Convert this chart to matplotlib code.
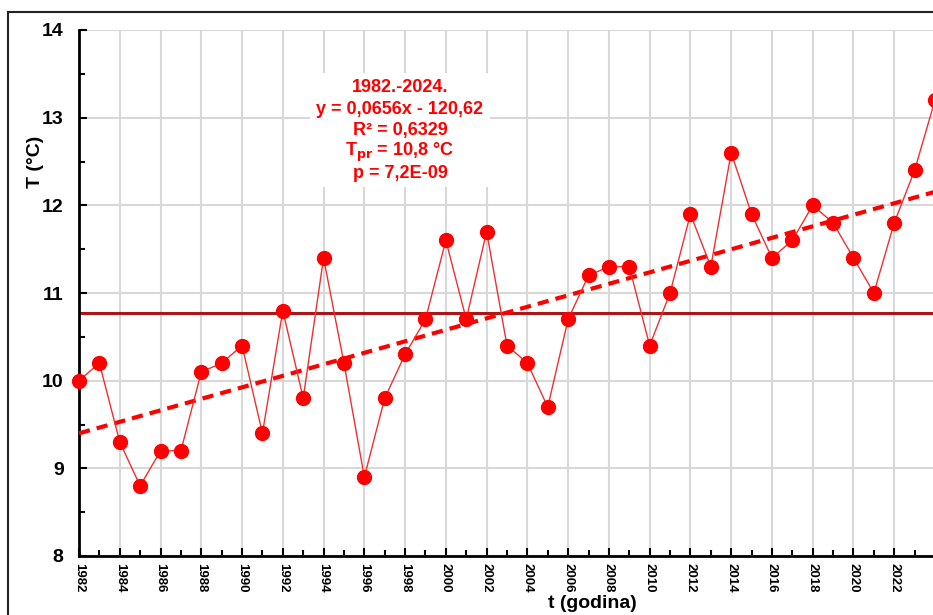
import matplotlib.pyplot as plt
from matplotlib.lines import Line2D
from matplotlib.patches import Rectangle
from matplotlib.ticker import MultipleLocator
import numpy as np

plt.rcParams['font.family'] = ['Liberation Sans', 'DejaVu Sans']

# mean annual temperature
years = list(range(1982, 2025))
temps = [10.0, 10.2, 9.3, 8.8, 9.2, 9.2, 10.1, 10.2, 10.4, 9.4,
         10.8, 9.8, 11.4, 10.2, 8.9, 9.8, 10.3, 10.7, 11.6, 10.7,
         11.7, 10.4, 10.2, 9.7, 10.7, 11.2, 11.3, 11.3, 10.4, 11.0,
         11.9, 11.3, 12.6, 11.9, 11.4, 11.6, 12.0, 11.8, 11.4, 11.0,
         11.8, 12.4, 13.2]
slope = 0.0656
intercept = -120.62
t_mean = 10.77

info_lines = ["1982.-2024.",
              "y = 0,0656x - 120,62",
              "R² = 0,6329",
              "T$_{\\mathbf{pr}}$ = 10,8 °C",
              "p = 7,2E-09"]

W, H = 933, 615
fig = plt.figure(figsize=(W / 100, H / 100), dpi=100)
ax = fig.add_axes([79 / W, 1 - 556 / H, (935 - 79) / W, (556 - 30) / H])

x = np.array(years)
ax.axhline(t_mean, color='#A81818', lw=2.2, zorder=2)
ax.plot(x, slope * x + intercept, color='#FF0000', lw=3, ls=(0, (2.7, 1.7)), zorder=3)
ax.plot(x, temps, color='#EE3030', lw=1, marker='o', ms=10,
        mfc='#FF0000', mec='#FF0000', zorder=4, clip_on=False)

ax.set_xlim(1982, 2024)
ax.set_ylim(8, 14)
ax.xaxis.set_major_locator(MultipleLocator(2))
ax.xaxis.set_minor_locator(MultipleLocator(1))
ax.yaxis.set_major_locator(MultipleLocator(1))
ax.yaxis.set_minor_locator(MultipleLocator(0.5))
ax.grid(True, which='major', color='#D8D8D8', lw=1.5, zorder=0)
ax.set_axisbelow(True)

for s in ['top', 'right']:
    ax.spines[s].set_visible(False)
for s in ['left', 'bottom']:
    ax.spines[s].set_linewidth(2)
    ax.spines[s].set_color('black')

ax.tick_params(which='both', direction='in', color='black')
ax.tick_params(which='major', length=6, width=1.5)
ax.tick_params(which='minor', length=4, width=1.5)
ax.tick_params(axis='y', which='major', pad=11, labelsize=14)
ax.tick_params(axis='x', which='major', pad=5, labelsize=9.5)
for lab in ax.get_yticklabels():
    lab.set_fontweight('bold')
for lab in ax.get_xticklabels():
    lab.set_fontweight('bold')
    lab.set_rotation(-90)

fig.text(35 / W, 1 - 162 / H, 'T (°C)', rotation=90, fontsize=14,
         fontweight='bold', ha='center', va='center')
fig.text(592 / W, 1 - 603 / H, 't (godina)', fontsize=14,
         fontweight='bold', ha='center', va='center')

# white box behind the regression info
ax.add_patch(Rectangle((310 / W, 1 - 187 / H), 180 / W, 114 / H,
                       transform=fig.transFigure, facecolor='white',
                       edgecolor='none', zorder=1))
line_y = [88, 109, 131, 152, 174]
for txt, yy in zip(info_lines, line_y):
    fig.text(400 / W, 1 - yy / H, txt, color='#FF0000', fontsize=13,
             fontweight='bold', ha='center', va='center')

# outer frame
fig.add_artist(Line2D([8 / W, 8 / W], [0, 1 - 12 / H], transform=fig.transFigure,
                      color='#222222', lw=1.5))
fig.add_artist(Line2D([8 / W, 1], [1 - 12 / H, 1 - 12 / H], transform=fig.transFigure,
                      color='#222222', lw=1.5))

fig.savefig('out.png', dpi=100)
